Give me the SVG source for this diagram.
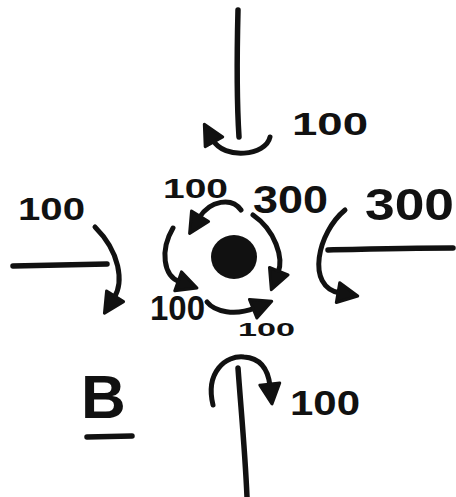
<svg xmlns="http://www.w3.org/2000/svg" width="456" height="497" viewBox="0 0 456 497">
<style>
.ln{fill:none;stroke:#111;stroke-width:5.5;stroke-linecap:round;stroke-linejoin:round}
.ar{fill:none;stroke:#111;stroke-width:5;stroke-linecap:round;marker-end:url(#ah)}
.t{font-family:"Liberation Sans",Arial,sans-serif;font-weight:bold;fill:#111}
</style>
<defs>
<marker id="ah" viewBox="-2 -13 26 26" markerWidth="26" markerHeight="26" refX="2" refY="0" orient="auto" markerUnits="userSpaceOnUse">
<path d="M0,-10 L20,0 L0,10 z" fill="#111" stroke="#111" stroke-width="3" stroke-linejoin="round"/>
</marker>
</defs>
<rect width="456" height="497" fill="#fff"/>
<g id="connectors">
<path class="ln" d="M238,10 C237,50 236,90 239,137"/>
<path class="ln" d="M13,266 L107,264"/>
<path class="ln" d="M328,250 C370,249 410,248 453,248"/>
<path class="ln" d="M238,368 C241,410 245,450 247,497"/>
<path class="ar" d="M270,137 C266,156 224,160 213,140"/>
<path class="ar" d="M95,227 C120,252 124,282 114,298"/>
<path class="ar" d="M345,210 C318,232 305,287 340,293"/>
<path class="ar" d="M241,210 C232,197 210,200 199,218"/>
<path class="ar" d="M173,228 C160,250 163,276 180,282"/>
<path class="ar" d="M207,302 C215,312 235,316 255,308"/>
<path class="ar" d="M253,215 C275,230 284,258 278,273"/>
<path class="ar" d="M213,405 C205,372 226,355 244,357 C260,358 268,368 270,386"/>
</g>
<g id="center"><ellipse cx="234" cy="257" rx="23" ry="22" fill="#111"/></g>
<g id="label-top"><text class="t" x="292" y="135" font-size="32" textLength="76" lengthAdjust="spacingAndGlyphs">100</text></g>
<g id="label-left"><text class="t" x="18" y="220" font-size="32" textLength="67" lengthAdjust="spacingAndGlyphs">100</text></g>
<g id="label-right"><text class="t" x="365" y="220" font-size="45" textLength="89" lengthAdjust="spacingAndGlyphs">300</text></g>
<g id="label-bottom"><text class="t" x="290" y="415" font-size="35" textLength="70" lengthAdjust="spacingAndGlyphs">100</text></g>
<g id="label-in-tl"><text class="t" x="163" y="198" font-size="28" textLength="65" lengthAdjust="spacingAndGlyphs">100</text></g>
<g id="label-in-tr"><text class="t" x="253" y="213" font-size="39" textLength="75" lengthAdjust="spacingAndGlyphs">300</text></g>
<g id="label-in-bl"><text class="t" x="150" y="320" font-size="35" textLength="55" lengthAdjust="spacingAndGlyphs">100</text></g>
<g id="label-in-b"><text class="t" x="238" y="336" font-size="19" textLength="57" lengthAdjust="spacingAndGlyphs">100</text></g>
<g id="title">
<text class="t" x="81" y="418" font-size="62">B</text>
<path class="ln" d="M87,437 L132,436"/>
</g>
</svg>
